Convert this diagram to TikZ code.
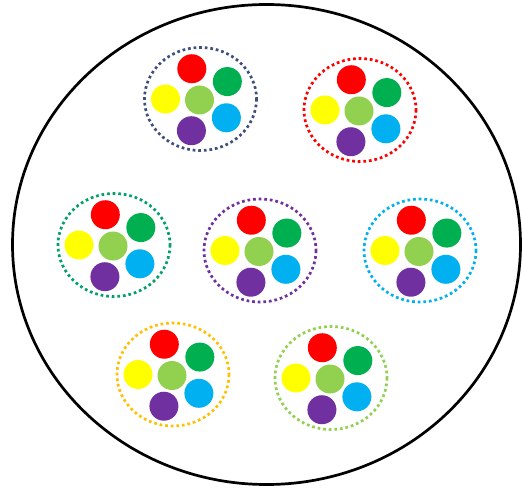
\documentclass[tikz,border=0pt]{standalone}
\usepackage{tikz}

\definecolor{dotred}{HTML}{FF0000}
\definecolor{dotgreen}{HTML}{00B050}
\definecolor{dotcyan}{HTML}{00B0F0}
\definecolor{dotpurple}{HTML}{7030A0}
\definecolor{dotyellow}{HTML}{FFFF00}
\definecolor{dotlime}{HTML}{92D050}
\definecolor{rimnavy}{HTML}{3E4F7E}
\definecolor{rimteal}{HTML}{00A06A}
\definecolor{rimorange}{HTML}{FFC000}

\tikzset{
  rim/.style={line width=2.7pt, dash pattern=on 2.7pt off 2.9pt},
}

\begin{document}
\begin{tikzpicture}[x=1pt, y=-1pt]
      \useasboundingbox (0,0) rectangle (522,489);
      \draw[line width=2.7pt] (266.5,244.5) ellipse (254 and 240);
      % clusters: centre, rim colour
      \foreach \cx/\cy/\rimcol in {200.5/99/rimnavy, 360/110/dotred,
          114/245/rimteal, 260/250.5/dotpurple, 420/250.5/dotcyan,
          173/374.5/rimorange, 331/378/dotlime} {
        \draw[rim, \rimcol] (\cx,\cy) ellipse (56 and 51.5);
        \begin{scope}[shift={(\cx,\cy)}, y=1pt]
          \fill[dotlime] (-1,-1) circle (14.5pt);
          \fill[dotred] (106:31.5) circle (14.5pt);
          \fill[dotgreen] (33:32) circle (14.5pt);
          \fill[dotcyan] (-36:32) circle (14.5pt);
          \fill[dotpurple] (254:33) circle (14.5pt);
          \fill[dotyellow] (180:35) circle (14.5pt);
        \end{scope}
      }
    \end{tikzpicture}
\end{document}
